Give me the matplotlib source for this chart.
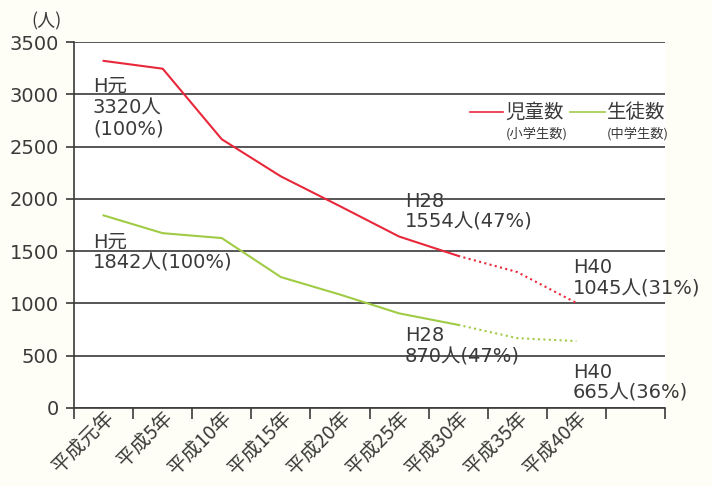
import matplotlib.pyplot as plt
import matplotlib.transforms as mtransforms

plt.rcParams['font.family'] = ['DejaVu Sans', 'Noto Sans CJK JP']

# data
years = ['平成元年', '平成5年', '平成10年', '平成15年', '平成20年',
         '平成25年', '平成30年', '平成35年', '平成40年']
jido = [3320, 3245, 2570, 2215, 1930, 1640, 1455, 1300, 1005]   # 小学生数
seito = [1842, 1672, 1625, 1252, 1085, 905, 795, 668, 640]      # 中学生数
n_solid = 7   # 平成30年まで実績、以降は推計(点線)

RED = '#e8283a'
GREEN = '#9fcb45'
TXT = '#3a3a3a'
LINE = '#3a3a3a'

fig = plt.figure(figsize=(7.12, 4.86), dpi=100, facecolor='#fefef6')
ax = fig.add_axes([0.104, 0.1605, 0.83, 0.753])
ax.set_facecolor('white')

x = [i + 0.5 for i in range(len(years))]

ax.plot(x[:n_solid], jido[:n_solid], color=RED, lw=1.5, zorder=3)
ax.plot(x[n_solid - 1:], jido[n_solid - 1:], color=RED, lw=1.5,
        ls=(0, (1, 1.6)), zorder=3)
ax.plot(x[:n_solid], seito[:n_solid], color=GREEN, lw=1.5, zorder=3)
ax.plot(x[n_solid - 1:], seito[n_solid - 1:], color=GREEN, lw=1.5,
        ls=(0, (1, 1.6)), zorder=3)

ax.set_xlim(0, 10)
ax.set_ylim(0, 3500)
ax.set_yticks(range(0, 3501, 500))
ax.yaxis.grid(True, color=LINE, lw=1.2)
ax.set_axisbelow(True)
ax.tick_params(axis='y', length=6, width=1.2, color=LINE,
               labelsize=14, labelcolor=TXT, pad=5)

ax.set_xticks(range(11))
ax.set_xticklabels([])
ax.set_xticks(x, minor=True)
ax.set_xticklabels(years, minor=True, rotation=45, ha='right',
                   va='center', rotation_mode='anchor', fontsize=14,
                   color=TXT, family='Noto Sans CJK JP')
ax.tick_params(axis='x', which='major', length=8, width=1.2, color=LINE)
ax.tick_params(axis='x', which='minor', length=0, pad=5)
shift = mtransforms.ScaledTranslation(7 / 100, 0, fig.dpi_scale_trans)
for lab in ax.get_xticklabels(minor=True):
    lab.set_transform(lab.get_transform() + shift)

for s in ['top', 'right']:
    ax.spines[s].set_visible(False)
for s in ['left', 'bottom']:
    ax.spines[s].set_color(LINE)
    ax.spines[s].set_linewidth(1.2)

ax.text(-0.47, 3700, '(人)', fontsize=13, color=TXT, ha='center', va='center',
        clip_on=False, family='Noto Sans CJK JP')

# annotations
notes = [
    (0.32, 3165, 'H元\n3320人\n(100%)'),
    (0.32, 1680, 'H元\n1842人(100%)'),
    (5.6, 2070, 'H28\n1554人(47%)'),
    (5.6, 780, 'H28\n870人(47%)'),
    (8.44, 1430, 'H40\n1045人(31%)'),
    (8.44, 435, 'H40\n665人(36%)'),
]
for nx, ny, t in notes:
    ax.text(nx, ny, t, fontsize=14, color=TXT, ha='left', va='top',
            linespacing=1.15, zorder=4, clip_on=False)

# legend (hand placed, pixel coords of the figure)
def fx(px):
    return px / 712

def fy(py):
    return 1 - py / 486

fig.lines.append(plt.Line2D([fx(470), fx(503)], [fy(112), fy(112)],
                            color=RED, lw=1.2, transform=fig.transFigure))
fig.lines.append(plt.Line2D([fx(570), fx(605)], [fy(112), fy(112)],
                            color=GREEN, lw=1.2, transform=fig.transFigure))
fig.text(fx(505), fy(112), '児童数', fontsize=14, color=TXT, ha='left',
         va='center', family='Noto Sans CJK JP')
fig.text(fx(607), fy(112), '生徒数', fontsize=14, color=TXT, ha='left',
         va='center', family='Noto Sans CJK JP')
fig.text(fx(537), fy(134), '(小学生数)', fontsize=9.5, color=TXT, ha='center',
         va='center', family='Noto Sans CJK JP')
fig.text(fx(638), fy(134), '(中学生数)', fontsize=9.5, color=TXT, ha='center',
         va='center', family='Noto Sans CJK JP')

fig.savefig('out.png', dpi=100, facecolor=fig.get_facecolor())
